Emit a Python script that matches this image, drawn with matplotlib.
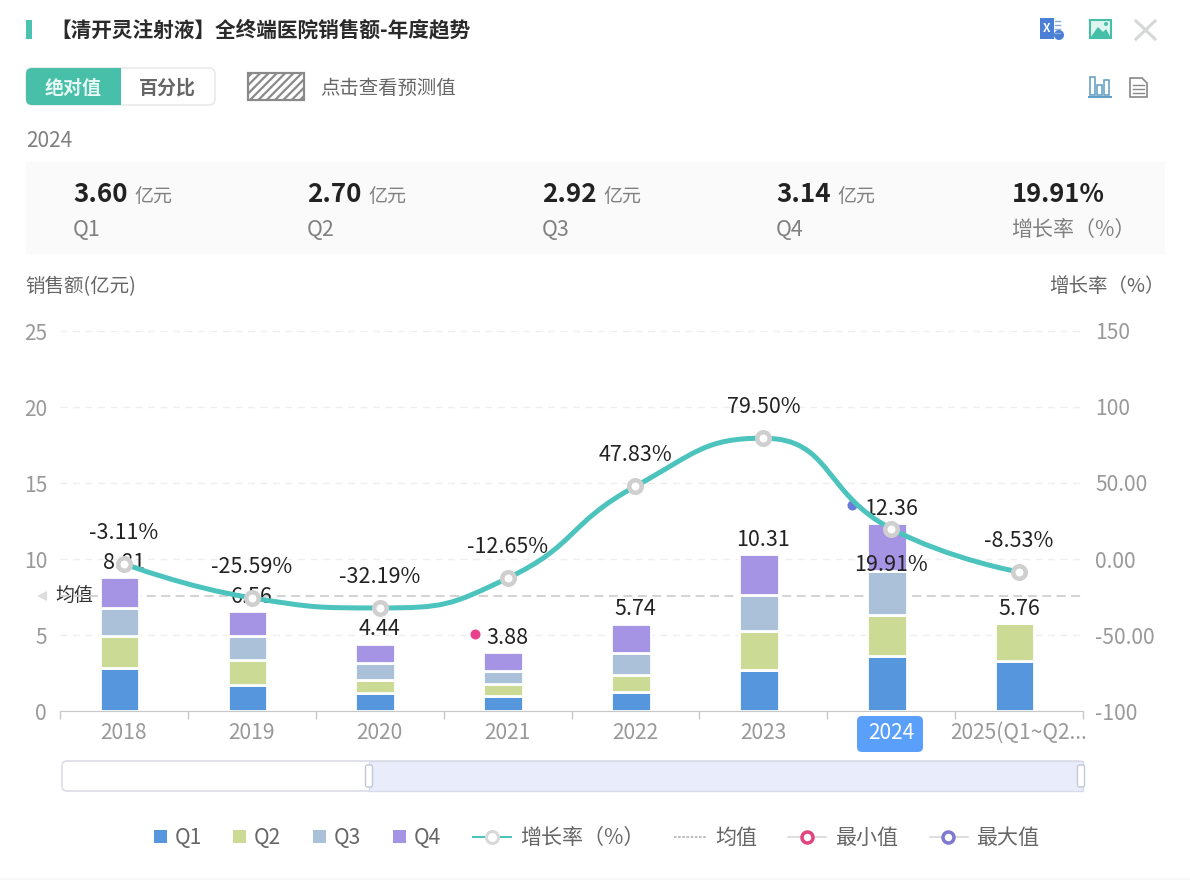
import numpy as np
import matplotlib
matplotlib.use('Agg')
import matplotlib.pyplot as plt
from matplotlib.patches import FancyBboxPatch, Rectangle, PathPatch, Circle
from matplotlib.path import Path
from matplotlib.transforms import offset_copy

plt.rcParams['font.family'] = ['Noto Sans CJK SC', 'DejaVu Sans']
plt.rcParams['hatch.linewidth'] = 1.6

# data
years = ['2018', '2019', '2020', '2021', '2022', '2023', '2024', '2025(Q1~Q2...']
q1 = [2.80, 1.70, 1.20, 1.00, 1.25, 2.70, 3.60, 3.30]
q2 = [2.15, 1.65, 0.85, 0.80, 1.15, 2.55, 2.70, 2.46]
q3 = [1.85, 1.60, 1.10, 0.85, 1.40, 2.40, 2.92, 0]
q4 = [2.01, 1.61, 1.29, 1.23, 1.94, 2.66, 3.14, 0]
totals = [8.81, 6.56, 4.44, 3.88, 5.74, 10.31, 12.36, 5.76]
growth = [-3.11, -25.59, -32.19, -12.65, 47.83, 79.50, 19.91, -8.53]
mean_value = 7.57
left_ticks = [0, 5, 10, 15, 20, 25]
right_ticks = [-100, -50, 0, 50, 100, 150]
right_labels = ['-100', '-50.00', '0.00', '50.00', '100', '150']
summary_values = ['3.60', '2.70', '2.92', '3.14']
summary_names = ['Q1', 'Q2', 'Q3', 'Q4']
legend_quarters = ['Q1', 'Q2', 'Q3', 'Q4']

blue, green, slate, purple = '#5596dd', '#cbdb95', '#abc0d9', '#a594e3'
teal = '#4cc4bd'
grey_text = '#999999'
dark_text = '#222222'


def px(size):
    return size * 0.72


fig = plt.figure(figsize=(11.9, 8.8), dpi=100, facecolor='white')

# whole figure layer in pixels for the page furniture
ui = fig.add_axes([0, 0, 1, 1], zorder=0)
ui.set_xlim(0, 1190)
ui.set_ylim(880, 0)
ui.axis('off')


def round_box(x0, y0, x1, y1, r=4, **kw):
    box = FancyBboxPatch((x0 + r, y0 + r), x1 - x0 - 2 * r, y1 - y0 - 2 * r,
                         boxstyle='round,pad=%g,rounding_size=%g' % (r, r), **kw)
    ui.add_patch(box)
    return box


def label(x0, y0, s, size, **kw):
    # the CJK font sits a little high when centred
    ui.text(x0, y0 + 2, s, fontsize=px(size), va='center', **kw)


# header
ui.add_patch(Rectangle((26, 20), 6, 19, color='#4cc2b0', lw=0))
label(50, 28, '【清开灵注射液】全终端医院销售额-年度趋势', 20.7, fontweight='bold', color='#2a2a2a')

# header icons
ui.add_patch(Rectangle((1040, 18), 14, 21, color='#4a7fd6', lw=0))
ui.text(1047, 28, 'X', color='white', fontsize=px(12), fontweight='bold', ha='center', va='center')
for yy in (21, 25, 29, 33):
    ui.plot([1055, 1060], [yy, yy], color='#8aa9dc', lw=1)
ui.add_patch(Circle((1059, 35), 5, color='#4a7fd6', lw=0))
ui.add_patch(Rectangle((1090, 20), 21, 18, fc='#dff5ef', ec='#46bfa8', lw=1.5))
ui.add_patch(plt.Polygon([(1090, 38), (1098, 27), (1103, 32), (1106, 29), (1111, 38)], color='#46bfa8', lw=0))
ui.add_patch(Circle((1106, 24), 2, color='#46bfa8', lw=0))
ui.plot([1136, 1155], [21, 39], color='#d5d8d6', lw=2.2)
ui.plot([1155, 1136], [21, 39], color='#d5d8d6', lw=2.2)
for x0, h in ((1090, 18), (1097, 10), (1104, 15)):
    ui.add_patch(Rectangle((x0, 95 - h), 5, h, fc='white', ec='#5b9dc4', lw=1.1))
ui.plot([1089, 1111], [97, 97], color='#5b9dc4', lw=1.4)
ui.add_patch(plt.Polygon([(1130, 78), (1142, 78), (1147, 83), (1147, 97), (1130, 97)], fc='white', ec='#888888', lw=1.2))
for yy in (85, 89, 93):
    ui.plot([1133, 1144], [yy, yy], color='#888888', lw=1)

# toggle
round_box(26, 68, 215, 105, r=6, fc='white', ec='#e4e6e8', lw=1)
round_box(26, 68, 121, 105, r=6, fc='#47bfa9', ec='none')
ui.add_patch(Rectangle((110, 68), 11, 37, color='#47bfa9', lw=0))
label(73, 86, '绝对值', 19, color='#e8f8f4', fontweight='bold', ha='center')
label(167, 86, '百分比', 19, color='#666666', fontweight='bold', ha='center')
ui.add_patch(Rectangle((248, 73), 56, 27, fc='white', ec='#8a8a8a', hatch='////', lw=1.6))
label(320, 86, '点击查看预测值', 19.4, color='#666666')

# summary panel
label(26, 139, '2024', 21, color='#808080')
ui.add_patch(Rectangle((26, 162), 1139, 92, color='#fafafa', lw=0))
for x0, val, name in zip((74, 308, 543, 777), summary_values, summary_names):
    label(x0 - 1, 193, val, 26, color=dark_text, fontweight='bold')
    label(x0 + 60, 195, '亿元', 19, color='#808080')
    label(x0 - 1, 228, name, 21.5, color='#808080')
label(1012, 193, '%.2f%%' % growth[6], 25.5, color=dark_text, fontweight='bold')
label(1011, 228, '增长率（%）', 21, color='#808080')

# axis titles
label(25, 285, '销售额(亿元)', 19.5, color='#666666')
label(1165, 285, '增长率（%）', 19.5, color='#666666', ha='right')

# selected year badge and mean marker
round_box(857, 716, 923, 752, r=5, fc='#5aa0fa', ec='none')
ui.add_patch(plt.Polygon([(37, 596), (47, 591), (47, 601)], color='#dddddd', lw=0))
label(74, 593, '均值', 19, color='#333333', ha='center')

# chart
ax = fig.add_axes([60 / 1190, (880 - 711) / 880, 1023 / 1190, 380 / 880], zorder=1)
ax.patch.set_alpha(0)
x = np.arange(len(years))
ax.set_xlim(-0.5, len(years) - 0.5)
ax.set_ylim(0, 25)
ax.set_axisbelow(True)
ax.grid(axis='y', color='#eeeeee', ls=(0, (5, 4)), lw=1)
ax.axhline(mean_value, color='#d0d0d0', ls=(0, (5, 3)), lw=1.3, zorder=1)

bar_x = x - 0.035
bottom = np.zeros(len(years))
for vals, col in zip((q1, q2, q3, q4), (blue, green, slate, purple)):
    vals = np.array(vals)
    ax.bar(bar_x, vals, 0.31, bottom=bottom, color=col, edgecolor='white', lw=2, zorder=2)
    bottom += vals

for xi, total in zip(x, totals):
    ax.annotate('%.2f' % total, (xi, total), xytext=(0, px(14.5)), textcoords='offset points',
                ha='center', va='center', fontsize=px(21.5), color=dark_text, zorder=3)

# min and max dots sit next to the total labels
imin, imax = int(np.argmin(totals)), int(np.argmax(totals))
min_tr = offset_copy(ax.transData, fig=fig, x=-33, y=18, units='dots')
max_tr = offset_copy(ax.transData, fig=fig, x=-39, y=18, units='dots')
ax.plot(x[imin], totals[imin], 'o', color='#e8408a', ms=px(10), mew=0, transform=min_tr, zorder=3)
ax.plot(x[imax], totals[imax], 'o', color='#6a7bd8', ms=px(10), mew=0, transform=max_tr, zorder=3)

ax.set_yticks(left_ticks)
ax.set_xticks(np.arange(len(years) + 1) - 0.5)
ax.set_xticklabels([])
ax.set_xticks(x, minor=True)
ax.set_xticklabels(years, minor=True)
ax.tick_params(axis='x', which='major', length=px(8), color='#c8c8c8', width=1)
ax.tick_params(axis='x', which='minor', length=0, pad=px(11), labelsize=px(21), labelcolor=grey_text)
ax.tick_params(axis='y', length=0, pad=px(13), labelsize=px(21), labelcolor=grey_text)
ax.get_xticklabels(minor=True)[6].set_color('white')
for s in ('top', 'left', 'right'):
    ax.spines[s].set_visible(False)
ax.spines['bottom'].set_color('#c8c8c8')

# growth line on the right axis
ax2 = ax.twinx()
ax2.set_ylim(-100, 150)
ax2.set_yticks(right_ticks)
ax2.set_yticklabels(right_labels)
ax2.tick_params(axis='y', length=0, pad=px(12), labelsize=px(21), labelcolor=grey_text)
for s in ax2.spines.values():
    s.set_visible(False)

# same smoothing idea as the web chart: tangents follow the neighbours and the
# control points are kept between them, worked out in pixel proportions
sx, sy = 1023 / len(years), 380 / 250
pts = np.column_stack([x * sx, np.array(growth) * sy])
n = len(pts)
cp_out = pts.copy()
cp_in = pts.copy()
smooth = 0.5
for i in range(1, n - 1):
    v = pts[i + 1] - pts[i - 1]
    len_prev = np.linalg.norm(pts[i] - pts[i - 1])
    len_next = np.linalg.norm(pts[i + 1] - pts[i])
    r = len_next / (len_prev + len_next)
    c_in = pts[i] - v * smooth * (1 - r)
    c_in = np.clip(c_in, np.minimum(pts[i], pts[i - 1]), np.maximum(pts[i], pts[i - 1]))
    c_out = pts[i] + (pts[i] - c_in) * r / (1 - r)
    c_out = np.clip(c_out, np.minimum(pts[i], pts[i + 1]), np.maximum(pts[i], pts[i + 1]))
    c_in = pts[i] - (c_out - pts[i]) * (1 - r) / r
    cp_in[i], cp_out[i] = c_in, c_out
verts = [pts[0]]
codes = [Path.MOVETO]
for i in range(n - 1):
    verts += [cp_out[i], cp_in[i + 1], pts[i + 1]]
    codes += [Path.CURVE4] * 3
verts = np.array(verts) / [sx, sy]
ax2.add_patch(PathPatch(Path(verts, codes), fc='none', ec=teal, lw=px(5), capstyle='round', zorder=3))
ax2.plot(x, growth, 'o', ms=px(12.5), mfc='white', mec='#cfcfcf', mew=px(4.5), ls='none', zorder=4)
for xi, g in zip(x, growth):
    off = -36 if xi == 6 else 31
    ax2.annotate('%.2f%%' % g, (xi, g), xytext=(0, px(off)), textcoords='offset points',
                 ha='center', va='center', fontsize=px(21.5), color=dark_text, zorder=5)

# slider
round_box(62, 761, 1083, 791, r=5, fc='white', ec='#dcdde6', lw=1.2)
ui.add_patch(Rectangle((369, 761), 714, 30, fc='#e8ecfb', ec='#d8dcea', lw=1))
for hx in (369, 1081):
    round_box(hx - 3.5, 765, hx + 3.5, 787, r=2, fc='white', ec='#c4c8d4', lw=1)

# legend
legend_y = 837
for x0, col, name in zip((154, 233, 313, 393), (blue, green, slate, purple), legend_quarters):
    ui.add_patch(Rectangle((x0, legend_y - 7), 13, 13, color=col, lw=0))
    label(x0 + 21, legend_y - 1, name, 21, color='#666666')
ui.plot([473, 511], [legend_y, legend_y], color=teal, lw=1.5)
ui.plot([492], [legend_y], 'o', ms=px(12), mfc='white', mec='#d8d8d8', mew=px(3))
label(520, legend_y - 1, '增长率（%）', 21, color='#666666')
ui.plot([674, 706], [legend_y, legend_y], color='#b0b0b0', ls=(0, (1.5, 1)), lw=1.2)
label(715, legend_y - 1, '均值', 21, color='#666666')
ui.plot([788, 826], [legend_y, legend_y], color='#d8d8d8', lw=1.2)
ui.plot([807], [legend_y], 'o', ms=px(11), mfc='white', mec='#e0457f', mew=px(3.5))
label(835, legend_y - 1, '最小值', 21, color='#666666')
ui.plot([930, 968], [legend_y, legend_y], color='#d8d8d8', lw=1.2)
ui.plot([948], [legend_y], 'o', ms=px(11), mfc='white', mec='#7f78cf', mew=px(3.5))
label(976, legend_y - 1, '最大值', 21, color='#666666')
ui.add_patch(Rectangle((0, 878), 1190, 2, color='#f6f7f8', lw=0))

fig.savefig('out.png', dpi=100)
